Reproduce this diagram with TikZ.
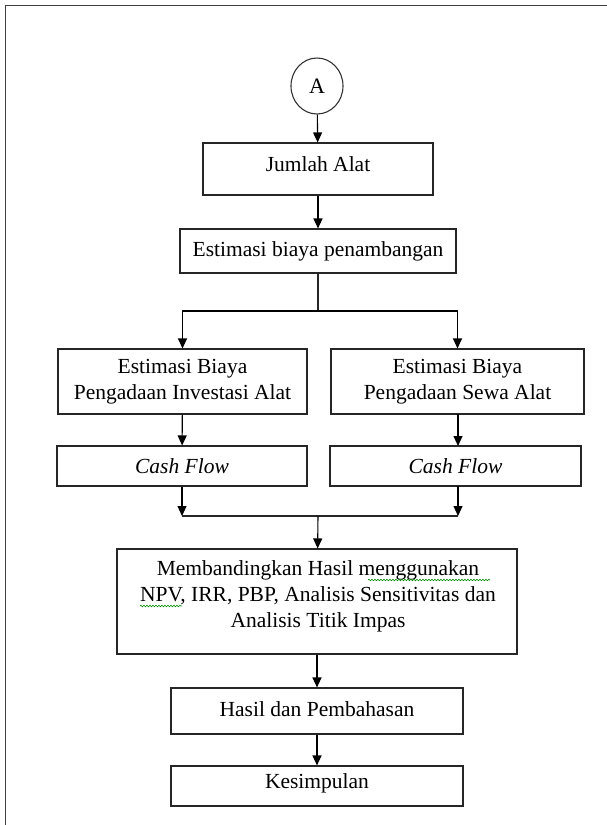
\documentclass[tikz,border=0pt]{standalone}
\usepackage{fontspec}
\setmainfont{Liberation Serif}
\usetikzlibrary{arrows.meta,shapes.geometric,decorations.pathmorphing}
\begin{document}
\begin{tikzpicture}[x=1pt,y=-1pt,
  box/.style={draw=black!85, line width=1.1pt, rectangle, align=center, inner sep=0pt,
    font=\fontsize{21.5}{26}\selectfont},
  txt/.style={align=center, inner sep=0pt, font=\fontsize{21.5}{26}\selectfont},
  arr/.style={draw=black, line width=1.1pt, -{Triangle[length=10pt,width=9pt]}},
  ln/.style={draw=black!85, line width=1.1pt},
  wavy/.style={draw=green!55!black, line width=0.6pt, decorate,
    decoration={snake, segment length=3pt, amplitude=0.8pt}}]
\useasboundingbox (0,0) rectangle (606,825);
\draw[draw=black!75, line width=1.6pt] (5.5,830) -- (5.5,5.5) -- (610,5.5);

\node[draw=black!80, line width=1.1pt, ellipse, minimum width=52pt, minimum height=56pt,
  inner sep=0pt, font=\fontsize{22}{26}\selectfont] (A) at (317,86) {A};
\node[box, minimum width=230pt, minimum height=52pt] (jumlah) at (318,169) {};
\node[txt] (jumlahtext) at (318,164) {Jumlah Alat};
\node[box, minimum width=276pt, minimum height=44pt] (estpen) at (318,251) {Estimasi biaya penambangan};
\coordinate (split) at (318,311);
\node[box, minimum width=249pt, minimum height=65pt] (inv) at (182.5,381.5) {Estimasi Biaya\\Pengadaan Investasi Alat};
\node[box, minimum width=253pt, minimum height=65pt] (sewa) at (457.5,381.5) {Estimasi Biaya\\Pengadaan Sewa Alat};
\node[box, minimum width=250pt, minimum height=40pt] (cf1) at (182,466) {\itshape Cash Flow};
\node[box, minimum width=251pt, minimum height=40pt] (cf2) at (455.5,466) {\itshape Cash Flow};
\coordinate (join) at (318,516);
\coordinate (jl) at (cf1 |- join);
\coordinate (jr) at (458,516);
\coordinate (sr) at (458,414);
\coordinate (cr) at (458,446);
\coordinate (cb) at (458,486);
\node[box, minimum width=400pt, minimum height=105pt] (banding) at (317,601.5) {};
\node[txt] (bandtext) at (318,596)
  {Membandingkan Hasil menggunakan\\NPV, IRR, PBP, Analisis Sensitivitas dan\\Analisis Titik Impas};
\node[box, minimum width=292pt, minimum height=46pt] (hasil) at (317,711) {};
\node[txt] (hasiltext) at (317,709) {Hasil dan Pembahasan};
\node[box, minimum width=292pt, minimum height=40pt] (kes) at (317,786) {};
\node[txt] (kestext) at (317,783) {Kesimpulan};

\draw[arr] (A) -- (jumlah);
\draw[arr] (jumlah) -- (estpen);
\draw[ln] (estpen) -- (split);
\draw[arr] (split) -| (inv);
\draw[arr] (split) -| (sewa);
\draw[arr] (inv) -- (cf1);
\draw[arr] (sr) -- (cr);
\draw[arr] (cf1) -- (jl);
\draw[arr] (cb) -- (jr);
\draw[ln] (jl) -- (jr);
\draw[arr] (join) -- (banding);
\draw[arr] (banding) -- (hasil);
\draw[arr] (hasil) -- (kes);

\coordinate (w1a) at (368,580); \coordinate (w1b) at (490,580);
\coordinate (w2a) at (140,606); \coordinate (w2b) at (182,606);
\draw[wavy] (w1a) -- (w1b);
\draw[wavy] (w2a) -- (w2b);
\end{tikzpicture}
\end{document}
